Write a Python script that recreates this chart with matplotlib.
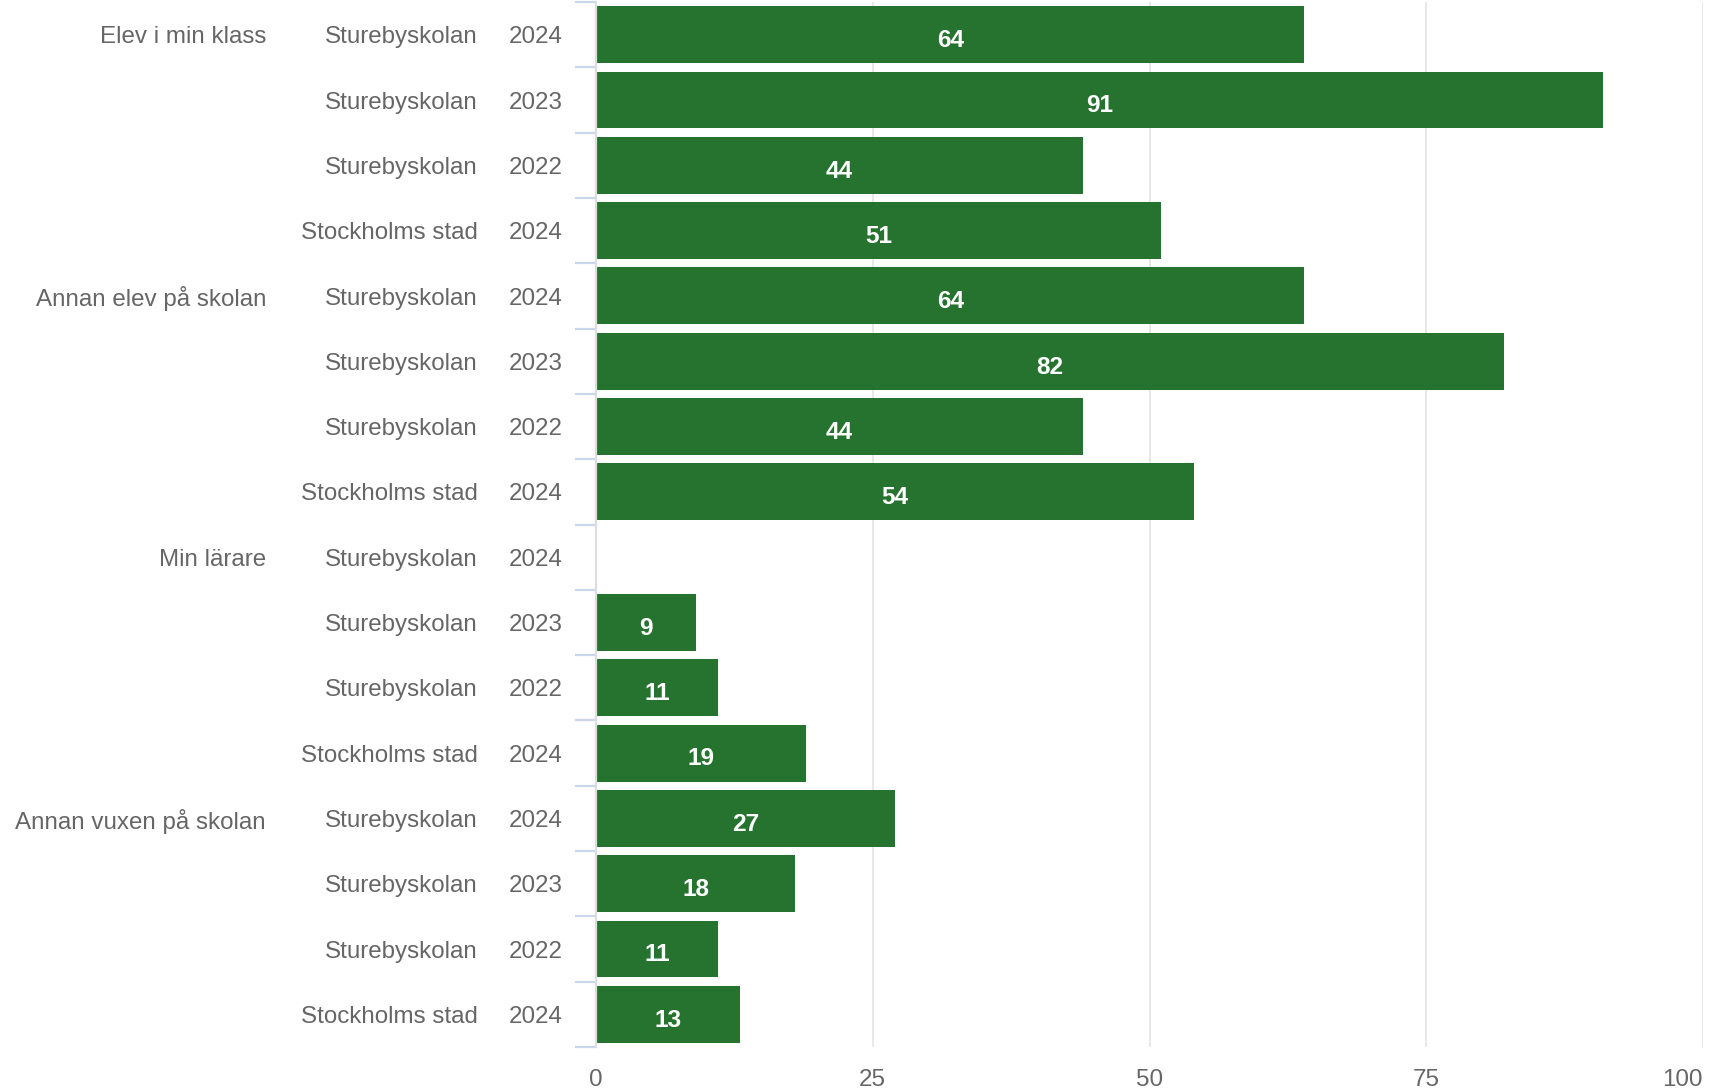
import matplotlib
matplotlib.use("Agg")
import matplotlib.pyplot as plt
from matplotlib.transforms import blended_transform_factory

# Data
groups = ["Elev i min klass", "Annan elev på skolan", "Min lärare", "Annan vuxen på skolan"]
units = ["Sturebyskolan", "Sturebyskolan", "Sturebyskolan", "Stockholms stad"]
years = ["2024", "2023", "2022", "2024"]
values = [64, 91, 44, 51,
          64, 82, 44, 54,
          None, 9, 11, 19,
          27, 18, 11, 13]
x_ticks = [0, 25, 50, 75, 100]

plt.rcParams['font.family'] = ['Liberation Sans', 'DejaVu Sans']

W, H = 1712, 1092
fig = plt.figure(figsize=(W / 100, H / 100), dpi=100)
ax = fig.add_axes([596 / W, 1 - 1047 / H, (1703 - 596) / W, (1047 - 2) / H])

bar_color = '#267330'
text_color = '#666666'
n = len(values)
rows = list(range(n))

for i, v in enumerate(values):
    if v is None:
        continue
    ax.barh(i, v, height=0.87, color=bar_color, zorder=3)
    ax.text(v / 2, i + 0.09, str(v), ha='center', va='center', color='white',
            fontsize=17.6, fontweight='bold', zorder=4)

ax.set_xlim(0, 100)
ax.set_ylim(n - 0.5, -0.5)

# grid and axes
ax.set_xticks(x_ticks)
ax.grid(axis='x', color='#e6e6e6', linewidth=1.3, zorder=0)
for s in ['top', 'right', 'bottom']:
    ax.spines[s].set_visible(False)
ax.spines['left'].set_color('#dcdde3')
ax.spines['left'].set_linewidth(1.6)
ax.spines['left'].set_zorder(5)

ax.tick_params(axis='x', length=0, labelsize=17.4, labelcolor=text_color, pad=16)
labels = ax.get_xticklabels()
labels[-1].set_horizontalalignment('right')
labels[-1].set_x(100)

# band separators as tick marks
ax.set_yticks([])
ax.set_yticks([i - 0.5 for i in range(n + 1)], minor=True)
ax.tick_params(axis='y', which='minor', length=15, width=1.6, color='#ccd6eb',
               labelleft=False)

# category labels
tr = blended_transform_factory(fig.transFigure, ax.transData)
for i in rows:
    ax.text(563 / W, i + 0.04, years[i % 4], transform=tr, ha='right', va='center',
            fontsize=17.4, color=text_color)
    ax.text(478 / W, i + 0.04, units[i % 4], transform=tr, ha='right', va='center',
            fontsize=17.4, color=text_color)
for g, name in enumerate(groups):
    ax.text(266 / W, g * 4 + 0.04, name, transform=tr, ha='right', va='center',
            fontsize=17.4, color=text_color)

fig.savefig("out.png", dpi=100)
